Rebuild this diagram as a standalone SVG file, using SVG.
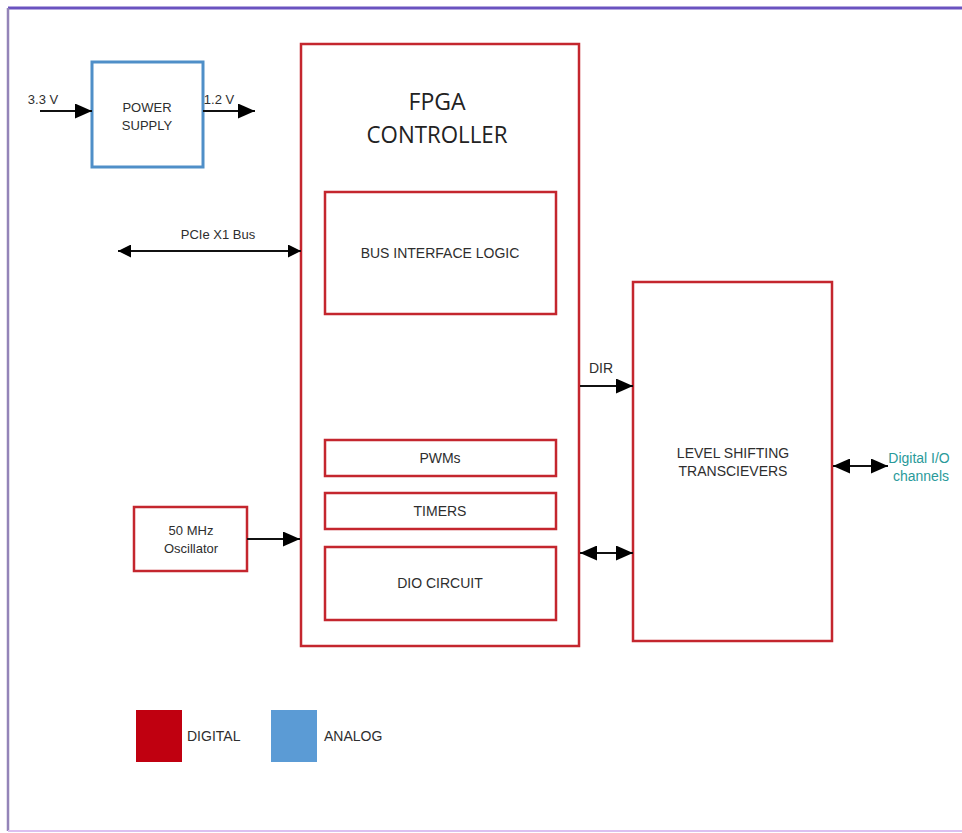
<svg xmlns="http://www.w3.org/2000/svg" width="962" height="833" viewBox="0 0 962 833">
<defs>
<marker id="ah" viewBox="0 0 10 10" refX="10" refY="5" markerWidth="13" markerHeight="13" markerUnits="userSpaceOnUse" orient="auto-start-reverse" preserveAspectRatio="none">
<path d="M0,0 L10,5 L0,10 Z" fill="#000"/>
</marker>
<marker id="ahb" viewBox="0 0 10 10" refX="10" refY="5" markerWidth="17" markerHeight="15" markerUnits="userSpaceOnUse" orient="auto-start-reverse" preserveAspectRatio="none">
<path d="M0,0 L10,5 L0,10 Z" fill="#000"/>
</marker>
</defs>
<style>
.red{fill:#fff;stroke:#c4262e;stroke-width:2.5}
.blue{fill:#fff;stroke:#4f8fc8;stroke-width:3}
.t{font-family:"Liberation Sans",Arial,sans-serif;font-size:14px;fill:#2e2e2e;text-anchor:middle}
.s{font-size:13px}
.big{font-family:"Open Sans","Liberation Sans",sans-serif;font-size:24px;fill:#222;text-anchor:middle}
.c{stroke:#111;stroke-width:2;fill:none}
.teal{fill:#2a9a9a}
</style>
<rect width="962" height="833" fill="#fff"/>
<g id="border">
<line x1="8" y1="8" x2="962" y2="8" stroke="#6a52c0" stroke-width="3"/>
<line x1="8" y1="8" x2="8" y2="831" stroke="#9484b8" stroke-width="2.5"/>
<line x1="8" y1="831" x2="962" y2="831" stroke="#dcc0f0" stroke-width="2"/>
</g>
<g id="power-supply">
<rect class="blue" x="92" y="62" width="111" height="105"/>
<text class="t s" x="147" y="112">POWER</text>
<text class="t s" x="147" y="130">SUPPLY</text>
</g>
<g id="fpga">
<rect class="red" x="301" y="44" width="278" height="602"/>
<text class="big" x="437" y="110" textLength="57" lengthAdjust="spacingAndGlyphs">FPGA</text>
<text class="big" x="437" y="143" textLength="141" lengthAdjust="spacingAndGlyphs">CONTROLLER</text>
</g>
<g id="bus-interface">
<rect class="red" x="325" y="192" width="231" height="122"/>
<text class="t" x="440" y="258">BUS INTERFACE LOGIC</text>
</g>
<g id="pwms">
<rect class="red" x="325" y="440" width="231" height="36"/>
<text class="t" x="440" y="463">PWMs</text>
</g>
<g id="timers">
<rect class="red" x="325" y="493" width="231" height="36"/>
<text class="t" x="440" y="516">TIMERS</text>
</g>
<g id="dio-circuit">
<rect class="red" x="325" y="547" width="231" height="73"/>
<text class="t" x="440" y="588">DIO CIRCUIT</text>
</g>
<g id="oscillator">
<rect class="red" x="134" y="507" width="113" height="64"/>
<text class="t s" x="191" y="535">50 MHz</text>
<text class="t s" x="191" y="553">Oscillator</text>
</g>
<g id="level-shifting">
<rect class="red" x="633" y="282" width="199" height="359"/>
<text class="t" x="733" y="458">LEVEL SHIFTING</text>
<text class="t" x="733" y="476">TRANSCIEVERS</text>
</g>
<g id="legend">
<rect x="136" y="710" width="46" height="52" fill="#c00010"/>
<text class="t" x="187" y="741" style="text-anchor:start">DIGITAL</text>
<rect x="271" y="710" width="46" height="52" fill="#5b9bd5"/>
<text class="t" x="324" y="741" style="text-anchor:start">ANALOG</text>
</g>
<g id="connectors">
<line class="c" x1="40" y1="111" x2="92" y2="111" marker-end="url(#ahb)"/>
<text class="t s" x="43" y="104">3.3 V</text>
<line class="c" x1="203" y1="111" x2="255" y2="111" marker-end="url(#ahb)"/>
<text class="t s" x="219" y="104">1.2 V</text>
<line class="c" x1="118" y1="251" x2="301" y2="251" marker-start="url(#ah)" marker-end="url(#ah)"/>
<text class="t s" x="218" y="239">PCIe X1 Bus</text>
<line class="c" x1="247" y1="539" x2="300" y2="539" marker-end="url(#ahb)"/>
<line class="c" x1="580" y1="386" x2="633" y2="386" marker-end="url(#ahb)"/>
<text class="t" x="601" y="373">DIR</text>
<line class="c" x1="580" y1="553" x2="633" y2="553" marker-start="url(#ahb)" marker-end="url(#ahb)"/>
<line class="c" x1="833" y1="466" x2="888" y2="466" marker-start="url(#ahb)" marker-end="url(#ahb)"/>
<text class="t teal" x="919" y="463">Digital I/O</text>
<text class="t teal" x="921" y="481">channels</text>
</g>
</svg>
